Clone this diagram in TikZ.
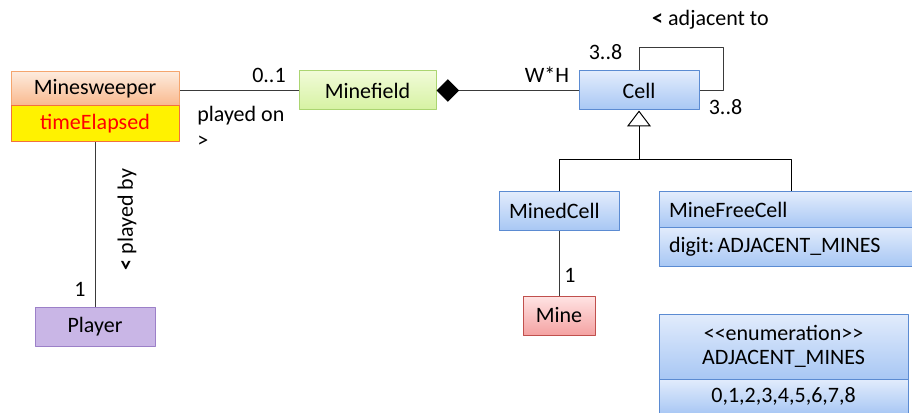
\documentclass[tikz,border=0pt]{standalone}
\usepackage{fontspec}
\setmainfont{Carlito}
\usetikzlibrary{arrows.meta}
\definecolor{celltop}{HTML}{E2ECFC}
\definecolor{cellbot}{HTML}{A8C7F4}
\definecolor{cellline}{HTML}{5B8BD2}
\definecolor{sweeptop}{HTML}{FDEBDD}
\definecolor{sweepbot}{HTML}{F9B88C}
\definecolor{sweepline}{HTML}{F5A56E}
\definecolor{timeline}{HTML}{F2703E}
\definecolor{fieldtop}{HTML}{F1FBD8}
\definecolor{fieldbot}{HTML}{D6F2A2}
\definecolor{fieldline}{HTML}{ABD571}
\definecolor{minetop}{HTML}{FFE4E4}
\definecolor{minebot}{HTML}{F4A2A2}
\definecolor{mineline}{HTML}{C0504D}
\definecolor{playerfill}{HTML}{C9B6E6}
\definecolor{playerline}{HTML}{9C80C8}
\definecolor{assoc}{HTML}{3A3A3A}
\frenchspacing
\begin{document}
\begin{tikzpicture}[x=0.75pt, y=-0.75pt, font=\fontsize{16.5}{19.8}\selectfont, line join=round,
	box/.style={draw, inner sep=0pt, minimum height=29.25pt, align=center, line width=0.75pt},
	cellbox/.style={box, draw=cellline, top color=celltop, bottom color=cellbot},
	leftbox/.style={cellbox, align=left, inner xsep=7.5pt},
	link/.style={draw=assoc, line width=0.75pt},
	isa/.style={draw=black, line width=0.75pt}]
	\clip (0,0) rectangle (912,413);
	% classes
	\node[box, draw=sweepline, top color=sweeptop, bottom color=sweepbot, minimum width=126pt, minimum height=25.5pt] (sweeper) at (95,89) {Minesweeper};
	\node[box, draw=timeline, fill=yellow, text=red, minimum width=126pt, minimum height=27pt] (time) at (95,124) {timeElapsed};
	\node[box, draw=fieldline, top color=fieldtop, bottom color=fieldbot, minimum width=102.75pt] (minefield) at (367.5,90.5) {Minefield};
	\node[cellbox, minimum width=90pt] (cell) at (639,90.5) {Cell};
	\node[leftbox, text width=75pt, minimum height=28.5pt] (minedcell) at (559,211) {MinedCell};
	\node[leftbox, text width=183pt, minimum height=26.25pt] (freecell) at (791,209.5) {MineFreeCell};
	\node[leftbox, text width=183pt] (digit) at (791,246.5) {digit:\hspace{2.5pt}ADJACENT\_MINES};
	\node[box, draw=mineline, top color=minetop, bottom color=minebot, minimum width=54pt] (mine) at (559,315.5) {Mine};
	\node[box, draw=playerline, fill=playerfill, minimum width=90pt] (player) at (95,326.5) {Player};
	\node[cellbox, minimum width=186.75pt, minimum height=48.75pt, font=\fontsize{16.5}{18}\selectfont] (enum) at (783.5,346.5) {<{}<enumeration>{}>\\ADJACENT\_MINES};
	\node[cellbox, minimum width=186.75pt, minimum height=26.25pt] (values) at (783.5,396.5) {0,1,2,3,4,5,6,7,8};
	% associations
	\draw[link] (minefield.west) -- (minefield.west -| sweeper.east);
	\draw[link, -{Diamond[color=black, length=17pt, width=17pt]}] (cell.west) -- (minefield.east);
	\coordinate (loop) at (723,47.7);
	\draw[link] (cell.north) |- (loop) |- (cell.east);
	\draw[link] (time.south) -- (player.north);
	\draw[link] (minedcell.south) -- (mine.north);
	% generalization
	\coordinate (gen) at (639,159.7);
	\draw[isa, -{Triangle[open, length=12pt, width=18pt]}] (gen) -- (cell.south);
	\draw[isa] (minedcell.north) |- (gen) -| (freecell.north);
	% labels
	\node (m01) at (269,75.5) {0..1};
	\node[align=left, anchor=west, inner sep=0pt] (playedon) at (197,127) {played on\\>};
	\node (mwh) at (547,74.5) {W*H};
	\node (m38a) at (605.5,52) {3..8};
	\node (m38b) at (725.5,107.5) {3..8};
	\node (adj) at (710.5,20) {\textbf{<} adjacent to};
	\node (m1a) at (80,289) {1};
	\node[rotate=90] (playedby) at (127,219.5) {\textbf{<} played by};
	\node (m1b) at (570,275) {1};
\end{tikzpicture}
\end{document}
